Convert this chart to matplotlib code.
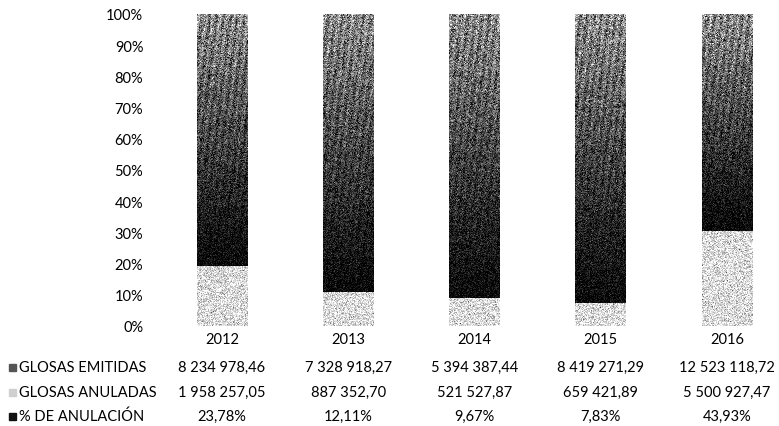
import numpy as np
import matplotlib
matplotlib.use("Agg")
import matplotlib.pyplot as plt
from matplotlib.patches import Rectangle
from matplotlib.transforms import blended_transform_factory

plt.rcParams['font.family'] = ['Lato', 'DejaVu Sans']

years = ["2012", "2013", "2014", "2015", "2016"]
glosas_emitidas = [8234978.46, 7328918.27, 5394387.44, 8419271.29, 12523118.72]
glosas_anuladas = [1958257.05, 887352.70, 521527.87, 659421.89, 5500927.47]
pct_anulacion = [23.78, 12.11, 9.67, 7.83, 43.93]

emitidas_lbl = ["8 234 978,46", "7 328 918,27", "5 394 387,44", "8 419 271,29", "12 523 118,72"]
anuladas_lbl = ["1 958 257,05", "887 352,70", "521 527,87", "659 421,89", "5 500 927,47"]
pct_lbl = ["23,78%", "12,11%", "9,67%", "7,83%", "43,93%"]

row_names = ["GLOSAS EMITIDAS", "GLOSAS ANULADAS", "% DE ANULACIÓN"]

W, H = 779, 427
fig = plt.figure(figsize=(W / 100, H / 100), dpi=100)
ax_left, ax_right = 160, 779
ax_bot, ax_top = 427 - 327, 427 - 15
ax = fig.add_axes([ax_left / W, ax_bot / H, (ax_right - ax_left) / W, (ax_top - ax_bot) / H])

# 100% stacked shares
tot = np.array(glosas_emitidas) + np.array(glosas_anuladas) + np.array(pct_anulacion)
s_anu = np.array(glosas_anuladas) / tot * 100
s_emi = np.array(glosas_emitidas) / tot * 100
s_pct = np.array(pct_anulacion) / tot * 100

x = np.arange(len(years))
bw = 0.4
b1 = ax.bar(x, s_anu, bw, color="#d2d2d2", zorder=2)
b2 = ax.bar(x, s_emi, bw, bottom=s_anu, color="#303030", zorder=2)
b3 = ax.bar(x, s_pct, bw, bottom=s_anu + s_emi, color="#000000", zorder=2)

px_per_unit = (ax_right - ax_left) / 4.903
ax.set_xlim(-(222 - ax_left) / px_per_unit, -(222 - ax_left) / px_per_unit + 4.903)
ax.set_ylim(0, 100)

# grainy print texture over each segment
rng = np.random.default_rng(7)
pxh = (ax_top - ax_bot) / 100.0
for i in range(len(years)):
    # light segment
    h_l = max(int(round(s_anu[i] * pxh)), 2)
    tex = np.clip(0.86 + rng.normal(0, 0.15, (h_l, 51)), 0, 1)
    im = ax.imshow(tex, cmap="gray", vmin=0, vmax=1, interpolation="nearest",
                   extent=(x[i] - bw / 2, x[i] + bw / 2, 0, s_anu[i]),
                   aspect="auto", zorder=3)
    im.set_clip_path(b1[i])
    # dark segment: gradient from mid grey at the top to black at the bottom
    h_d = max(int(round(s_emi[i] * pxh)), 2)
    rows = np.linspace(0, 1, h_d)[:, None]
    tone = 0.52 * (1 - rows) ** 1.2 + 0.03
    cols = np.arange(51)[None, :]
    streak = 0.12 * np.sin((cols + np.arange(h_d)[:, None] * 0.12) * 2 * np.pi / 7.0)
    tex = np.clip(tone + streak * (1 - rows) + rng.normal(0, 0.2, (h_d, 51)) * (1 - 0.6 * rows), 0, 1)
    im = ax.imshow(tex, cmap="gray", vmin=0, vmax=1, interpolation="nearest",
                   extent=(x[i] - bw / 2, x[i] + bw / 2, s_anu[i], s_anu[i] + s_emi[i]),
                   aspect="auto", zorder=3)
    im.set_clip_path(b2[i])

for sp in ax.spines.values():
    sp.set_visible(False)
ax.set_yticks(np.arange(0, 101, 10))
ax.set_yticklabels([f"{v}%" for v in range(0, 101, 10)], fontsize=10.5)
ax.tick_params(axis="y", length=0, pad=12)
ax.set_xticks(x)
ax.set_xticklabels(years, fontsize=10.5)
ax.tick_params(axis="x", length=0, pad=4)

# data table below the plot
tr = blended_transform_factory(ax.transData, fig.transFigure)
row_y = [368, 393, 417]
row_vals = [emitidas_lbl, anuladas_lbl, pct_lbl]
for ry, vals in zip(row_y, row_vals):
    for i, v in enumerate(vals):
        ax.text(x[i], 1 - ry / H, v, transform=tr, ha="center", va="center",
                fontsize=10.5, clip_on=False)

marker_colors = ["#555555", "#d0d0d0", "#111111"]
for ry, name, mc in zip(row_y, row_names, marker_colors):
    fig.patches.append(Rectangle((9 / W, 1 - (ry + 3.5) / H), 7 / W, 7 / H,
                                 transform=fig.transFigure, color=mc))
    fig.text(19 / W, 1 - ry / H, name, ha="left", va="center", fontsize=10.5)

fig.savefig("out.png", dpi=100)
